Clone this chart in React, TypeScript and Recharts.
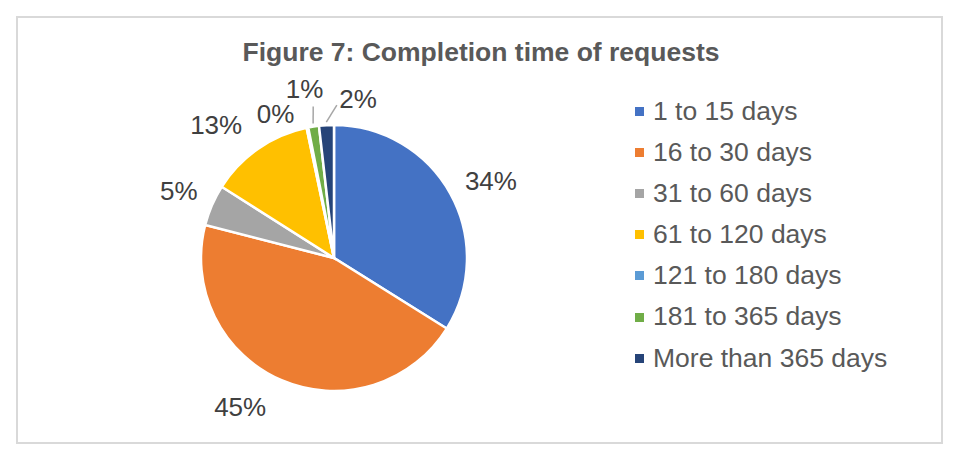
import { PieChart, Pie, Cell } from "recharts"

const categories = [
  "1 to 15 days",
  "16 to 30 days",
  "31 to 60 days",
  "61 to 120 days",
  "121 to 180 days",
  "181 to 365 days",
  "More than 365 days",
]
const shares = [33.9, 45.1, 5.0, 12.7, 0.2, 1.3, 1.8]
const colors = ["#4472C4", "#ED7D31", "#A5A5A5", "#FFC000", "#5B9BD5", "#70AD47", "#264478"]

// label placement tweaks (radius offset, angle shift) to mimic Excel best fit
const labelTweaks = [
  { dr: 42, da: -2.7 },
  { dr: 43, da: -9 },
  { dr: 36, da: 0 },
  { dr: 45, da: 6.7 },
  { dr: 22, da: 10.6 },
  { dr: 39, da: 1 },
  { dr: 28, da: -11.8 },
]
const leaders: Record<number, number> = { 5: -1, 6: -4.3 }

const FONT = '"Liberation Sans", Arial, sans-serif'
const RAD = Math.PI / 180

const data = categories.map((name, i) => ({ name, value: shares[i] }))

function polar(cx: number, cy: number, r: number, angle: number) {
  return { x: cx + r * Math.cos(-angle * RAD), y: cy + r * Math.sin(-angle * RAD) }
}

function renderLabel(props: any) {
  const { cx, cy, midAngle, outerRadius, percent, index } = props
  const t = labelTweaks[index]
  const p = polar(cx, cy, outerRadius + t.dr, midAngle + t.da)
  const lead = leaders[index]
  let line = null
  if (lead !== undefined) {
    const a = polar(cx, cy, outerRadius + 3, midAngle)
    const b = polar(cx, cy, outerRadius + 20, midAngle + lead)
    line = <line x1={a.x} y1={a.y} x2={b.x} y2={b.y} stroke="#A6A6A6" strokeWidth={1.5} />
  }
  return (
    <g key={`lbl-${index}`}>
      {line}
      <text
        x={p.x}
        y={p.y}
        textAnchor="middle"
        dominantBaseline="central"
        fill="#404040"
        fontSize={26}
        fontFamily={FONT}
      >
        {Math.round(percent * 100)}%
      </text>
    </g>
  )
}

function ChartLegend() {
  return (
    <div
      style={{
        position: "absolute",
        left: 635,
        top: 90.5,
        fontFamily: FONT,
        fontSize: 26.5,
        color: "#595959",
        whiteSpace: "nowrap",
      }}
    >
      {categories.map((name, i) => (
        <div key={name} style={{ display: "flex", alignItems: "center", height: 41.2, lineHeight: "41.2px" }}>
          <span style={{ width: 9, height: 9, background: colors[i], marginRight: 9, display: "inline-block" }} />
          <span>{name}</span>
        </div>
      ))}
    </div>
  )
}

export default function App() {
  return (
    <div style={{ position: "absolute", left: 0, top: 0, width: 962, height: 468, background: "#fff" }}>
      <div
        style={{
          position: "absolute",
          left: 16,
          top: 16,
          width: 927,
          height: 428,
          border: "2px solid #D9D9D9",
          boxSizing: "border-box",
        }}
      />
      <div
        style={{
          position: "absolute",
          left: 0,
          width: 962,
          top: 37,
          textAlign: "center",
          fontFamily: FONT,
          fontWeight: "bold",
          fontSize: 26.5,
          lineHeight: "30px",
          color: "#595959",
        }}
      >
        Figure 7: Completion time of requests
      </div>
      <PieChart
        width={962}
        height={468}
        margin={{ top: 0, right: 0, bottom: 0, left: 0 }}
        style={{ position: "absolute", left: 0, top: 0 }}
      >
        <Pie
          data={data}
          dataKey="value"
          nameKey="name"
          cx={334}
          cy={258}
          outerRadius={133}
          startAngle={90}
          endAngle={-270}
          stroke="#FFFFFF"
          strokeWidth={2.5}
          label={renderLabel}
          labelLine={false}
          isAnimationActive={false}
        >
          {data.map((d, i) => (
            <Cell key={d.name} fill={colors[i]} />
          ))}
        </Pie>
      </PieChart>
      <ChartLegend />
    </div>
  )
}
